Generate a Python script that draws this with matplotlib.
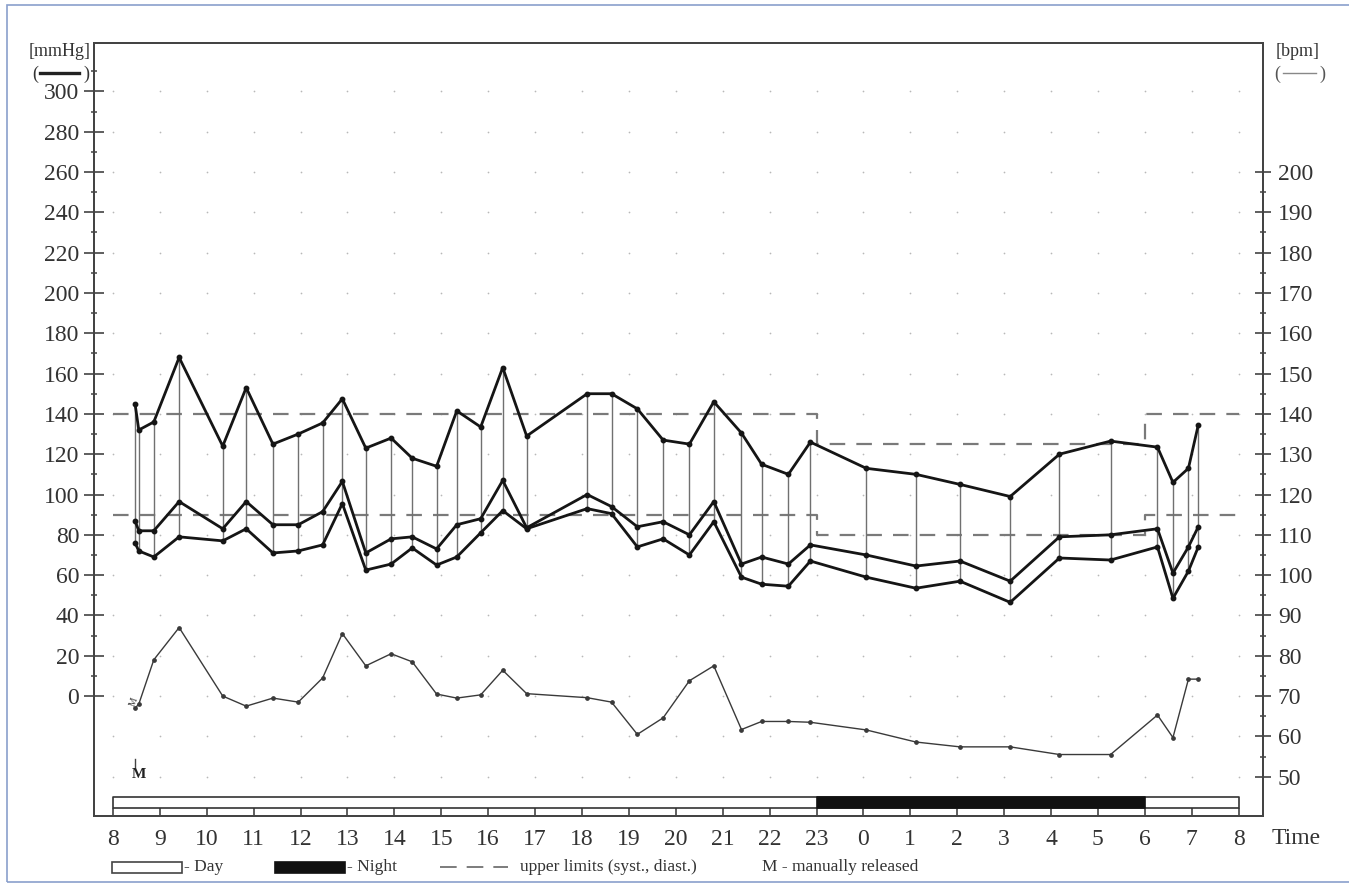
import numpy as np
import matplotlib
matplotlib.use("Agg")
import matplotlib.pyplot as plt
from matplotlib.patches import Rectangle
from matplotlib.lines import Line2D

plt.rcParams['font.family'] = ['Liberation Serif', 'DejaVu Serif']

# Readings (hours since midnight of day 1, so 24..32 is the next morning)
hora = [8.47, 8.55, 8.87, 9.41, 10.34, 10.84, 11.41, 11.95, 12.47, 12.89,
        13.39, 13.93, 14.38, 14.90, 15.33, 15.84, 16.31, 16.82, 18.11, 18.63,
        19.18, 19.73, 20.29, 20.81, 21.40, 21.83, 22.40, 22.87, 24.06, 25.12,
        26.06, 27.13, 28.18, 29.27, 30.27, 30.60, 30.93, 31.14]
sistolica = [145, 132, 136, 168, 124, 153, 125, 130, 135.5, 147.5,
             123, 128, 118, 114, 141.5, 133.5, 163, 129, 150, 150,
             142.5, 127, 125, 146, 130.5, 115, 110, 126, 113, 110,
             105, 99, 120, 126.5, 123.5, 106, 113, 134.5]
media = [87, 82, 82, 96.5, 83, 96.5, 85, 85, 91.5, 106.5,
         71, 78, 79, 73, 85, 88, 107, 83.5, 100, 94,
         84, 86.5, 80, 96.5, 65.5, 69, 65.5, 75, 70, 64.5,
         67, 57, 79, 80, 83, 61, 74, 84]
diastolica = [76, 72, 69, 79, 77, 83, 71, 72, 75, 95.5,
              62.5, 65.5, 73.5, 65, 69, 81, 92, 83, 93, 90.5,
              74, 78, 70, 86.5, 59, 55.5, 54.5, 67, 59, 53.5,
              57, 46.5, 68.5, 67.5, 74, 48.5, 62, 74]
pulso = [67, 68, 79, 87, 70, 67.5, 69.5, 68.5, 74.5, 85.5,
         77.5, 80.5, 78.5, 70.5, 69.5, 70.3, 76.4, 70.6, 69.6, 68.5,
         60.5, 64.6, 73.8, 77.5, 61.7, 63.7, 63.7, 63.5, 61.6, 58.6,
         57.4, 57.4, 55.5, 55.5, 65.3, 59.7, 74.2, 74.2]
manuales = [0]  # readings released by hand

# Upper limits: day 140/90, night 125/80
limite_horas = [8, 23, 30, 32]
limite_sist = [140, 125, 140, 140]
limite_diast = [90, 80, 90, 90]

inicio_dia, inicio_noche, fin_noche, fin_dia = 8, 23, 30, 32
horas_eje = list(range(8, 33))
etiquetas_horas = [str(h % 24) for h in horas_eje]

W, H = 1349, 893


def px(x, y):
    return x / W, 1 - y / H


fig = plt.figure(figsize=(W / 100, H / 100), dpi=100)
ax = fig.add_axes([94 / W, 1 - 816 / H, (1263 - 94) / W, (816 - 43) / H])
ax.set_xlim(7.595, 32.52)
ax.set_ylim(-59.5, 324)

# dotted background grid
gx, gy = np.meshgrid(horas_eje, np.arange(-40, 301, 20))
ax.scatter(gx.ravel(), gy.ravel(), s=1.5, color='#b8b8b8', zorder=0, lw=0)

# upper limits
ax.plot(limite_horas, limite_sist, drawstyle='steps-post', ls=(0, (7, 5)),
        color='#7a7a7a', lw=1.6, zorder=1)
ax.plot(limite_horas, limite_diast, drawstyle='steps-post', ls=(0, (7, 5)),
        color='#7a7a7a', lw=1.6, zorder=1)

# vertical bars between systolic and diastolic
ax.vlines(hora, diastolica, sistolica, color='#707070', lw=1.0, zorder=2)

for serie in (sistolica, media, diastolica):
    ax.plot(hora, serie, color='#151515', lw=2.0, marker='o', ms=3.2, zorder=3)

# heart rate on the bpm scale (70 bpm sits on 0 mmHg, 1 bpm = 2 mmHg)
ax2 = ax.twinx()
ax2.set_ylim(70 + (-59.5) / 2, 70 + 324 / 2)
ax2.plot(hora, pulso, color='#3a3a3a', lw=1.0, marker='o', ms=2.4, zorder=3)

# manual release marks
for i in manuales:
    ax.text(hora[i] + 0.08, -39, 'M', fontsize=11, fontweight='bold',
            ha='center', va='center', color='#222')
    ax.plot([hora[i], hora[i]], [-31, -35], color='#444', lw=1)
    ax2.text(hora[i] - 0.02, pulso[i] + 1.5, 'M', fontsize=7, rotation=70,
             ha='center', va='center', color='#333')

# day / night bar
ax.broken_barh([(inicio_dia, fin_dia - inicio_dia)], (-55.5, 5.5),
               facecolors='white', edgecolors='#333', lw=1.2, zorder=2)
ax.broken_barh([(inicio_noche, fin_noche - inicio_noche)], (-55.5, 5.5),
               facecolors='#111', edgecolors='#111', lw=1.2, zorder=2)

# axes and ticks
for a in (ax, ax2):
    for s in a.spines.values():
        s.set_color('#444')
        s.set_linewidth(1.4)

ax.set_xticks(horas_eje)
ax.set_xticklabels(etiquetas_horas)
ax.tick_params(axis='x', direction='in', length=6, width=1.1, pad=9.5,
               labelsize=17, colors='#333')
ax.set_yticks(range(0, 301, 20))
ax.set_yticks(range(10, 311, 20), minor=True)
ax.tick_params(axis='y', which='major', direction='inout', length=14,
               width=1.1, pad=3.6, labelsize=17, colors='#333')
ax.tick_params(axis='y', which='minor', direction='inout', length=5,
               width=1.1, colors='#444')

ax2.set_yticks(range(50, 201, 10))
ax2.set_yticks(range(55, 200, 10), minor=True)
ax2.tick_params(axis='y', which='major', direction='inout', length=11.5,
                width=1.1, pad=5, labelsize=17, colors='#333')
ax2.tick_params(axis='y', which='minor', direction='inout', length=4,
                width=1.1, colors='#444')

# unit labels
fig.text(*px(60, 52), '[mmHg]', fontsize=13, ha='center', va='center', color='#333')
fig.text(*px(35, 74), '(', fontsize=13, ha='center', va='center', color='#333')
fig.text(*px(86, 74), ')', fontsize=13, ha='center', va='center', color='#333')
fig.add_artist(Line2D([40 / W, 79 / W], [1 - 73 / H] * 2, color='#222', lw=2.4))

fig.text(*px(1298, 52), '[bpm]', fontsize=13, ha='center', va='center', color='#333')
fig.text(*px(1277, 74), '(', fontsize=13, ha='center', va='center', color='#555')
fig.text(*px(1322, 74), ')', fontsize=13, ha='center', va='center', color='#555')
fig.add_artist(Line2D([1283 / W, 1316 / W], [1 - 73 / H] * 2, color='#888', lw=1.0))

fig.text(*px(1272, 838), 'Time', fontsize=17, ha='left', va='center', color='#333')

# legend row
ley_y = 867
fig.add_artist(Rectangle(px(112, 873), 70 / W, 11 / H, facecolor='white',
                         edgecolor='#444', lw=1.2))
fig.text(*px(184, ley_y), '- Day', fontsize=12.5, ha='left', va='center', color='#333')
fig.add_artist(Rectangle(px(275, 873), 70 / W, 11 / H, facecolor='#111',
                         edgecolor='#111', lw=1.2))
fig.text(*px(347, ley_y), '- Night', fontsize=12.5, ha='left', va='center', color='#333')
fig.add_artist(Line2D([440 / W, 508 / W], [1 - ley_y / H] * 2, color='#666',
                      lw=1.2, ls=(0, (10, 6))))
fig.text(*px(520, ley_y), 'upper limits (syst., diast.)', fontsize=12.5,
         ha='left', va='center', color='#333')
fig.text(*px(762, ley_y), 'M - manually released', fontsize=12.5,
         ha='left', va='center', color='#333')

# page frame
fig.add_artist(Rectangle(px(7, 882), 1.0, (882 - 5) / H, facecolor='none',
                         edgecolor='#8aa0cc', lw=1.2))

fig.savefig('out.png', dpi=100, facecolor='white')
